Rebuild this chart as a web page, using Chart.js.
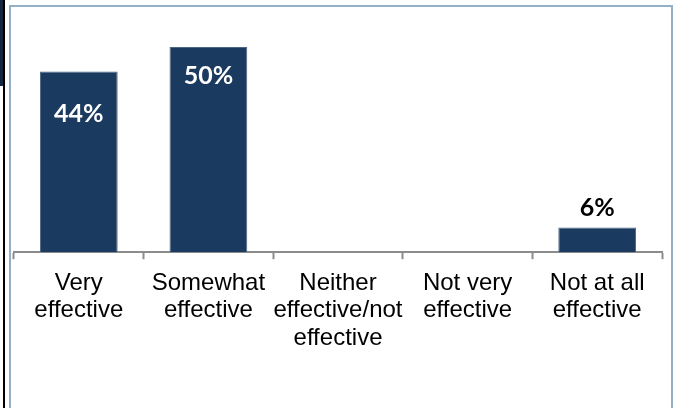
<!DOCTYPE html>
<html>
<head>
<meta charset="utf-8">
<script src="https://cdn.jsdelivr.net/npm/chart.js@4/dist/chart.umd.min.js"></script>
<style>
  html, body { margin: 0; padding: 0; background: #fff; }
  #wrap { position: relative; width: 675px; height: 408px; overflow: hidden; }
  #edge { position: absolute; left: 0; top: 0; width: 3px; height: 408px; border-right: 2px solid #000; }
  #edgeTop { position: absolute; left: 0; top: 0; width: 3px; height: 86px; background: #14253d; }
  #frame { position: absolute; left: 9px; top: 5px; width: 664px; height: 420px; border: 2px solid #92b1c9; box-sizing: border-box; }
  canvas { position: absolute; left: 0; top: 0; }
</style>
</head>
<body>
<div id="wrap">
  <div id="edge"></div>
  <div id="edgeTop"></div>
  <div id="frame"></div>
  <canvas id="grafico" width="675" height="408"></canvas>
</div>
<script>
const categorias = [
  ['Very', 'effective'],
  ['Somewhat', 'effective'],
  ['Neither', 'effective/not', 'effective'],
  ['Not very', 'effective'],
  ['Not at all', 'effective']
];
const valores = [44, 50, 0, 0, 6];
const rotulos = ['44%', '50%', '', '', '6%'];

// value labels: inside the bar top for tall bars, above the bar otherwise
const rotuloPlugin = {
  id: 'rotulos',
  afterDatasetsDraw(chart, args, opts) {
    const ctx = chart.ctx;
    const meta = chart.getDatasetMeta(0);
    ctx.save();
    ctx.font = 'bold 25px Lato';
    ctx.textAlign = 'center';
    ctx.textBaseline = 'middle';
    meta.data.forEach((bar, i) => {
      if (!rotulos[i]) return;
      const altura = bar.base - bar.y;
      if (altura > 60) {
        ctx.fillStyle = '#ffffff';
        ctx.fillText(rotulos[i], bar.x, bar.y + opts.dentro[i]);
      } else {
        ctx.fillStyle = '#000000';
        ctx.fillText(rotulos[i], bar.x, bar.y - 20);
      }
    });
    ctx.restore();
  }
};

new Chart(document.getElementById('grafico'), {
  type: 'bar',
  data: {
    labels: categorias,
    datasets: [{
      data: valores,
      backgroundColor: '#1b3a5f',
      borderColor: '#4a6684',
      borderWidth: 1,
      categoryPercentage: 0.6,
      barPercentage: 1
    }]
  },
  plugins: [rotuloPlugin],
  options: {
    responsive: false,
    animation: false,
    layout: { padding: { left: 14, right: 13, top: 47, bottom: 46 } },
    plugins: {
      legend: { display: false },
      tooltip: { enabled: false },
      rotulos: { dentro: [42, 29, 0, 0, 0] }
    },
    scales: {
      y: { display: false, min: 0, max: 50 },
      x: {
        offset: true,
        border: { display: true, color: '#8c8c8c', width: 2 },
        grid: {
          offset: true,
          drawOnChartArea: false,
          drawTicks: true,
          tickLength: 7,
          tickColor: '#8c8c8c',
          tickWidth: 2
        },
        ticks: {
          color: '#000',
          font: { family: 'Liberation Sans, Arial', size: 24, lineHeight: 1.15 },
          padding: 10,
          autoSkip: false,
          maxRotation: 0
        }
      }
    }
  }
});
</script>
</body>
</html>
